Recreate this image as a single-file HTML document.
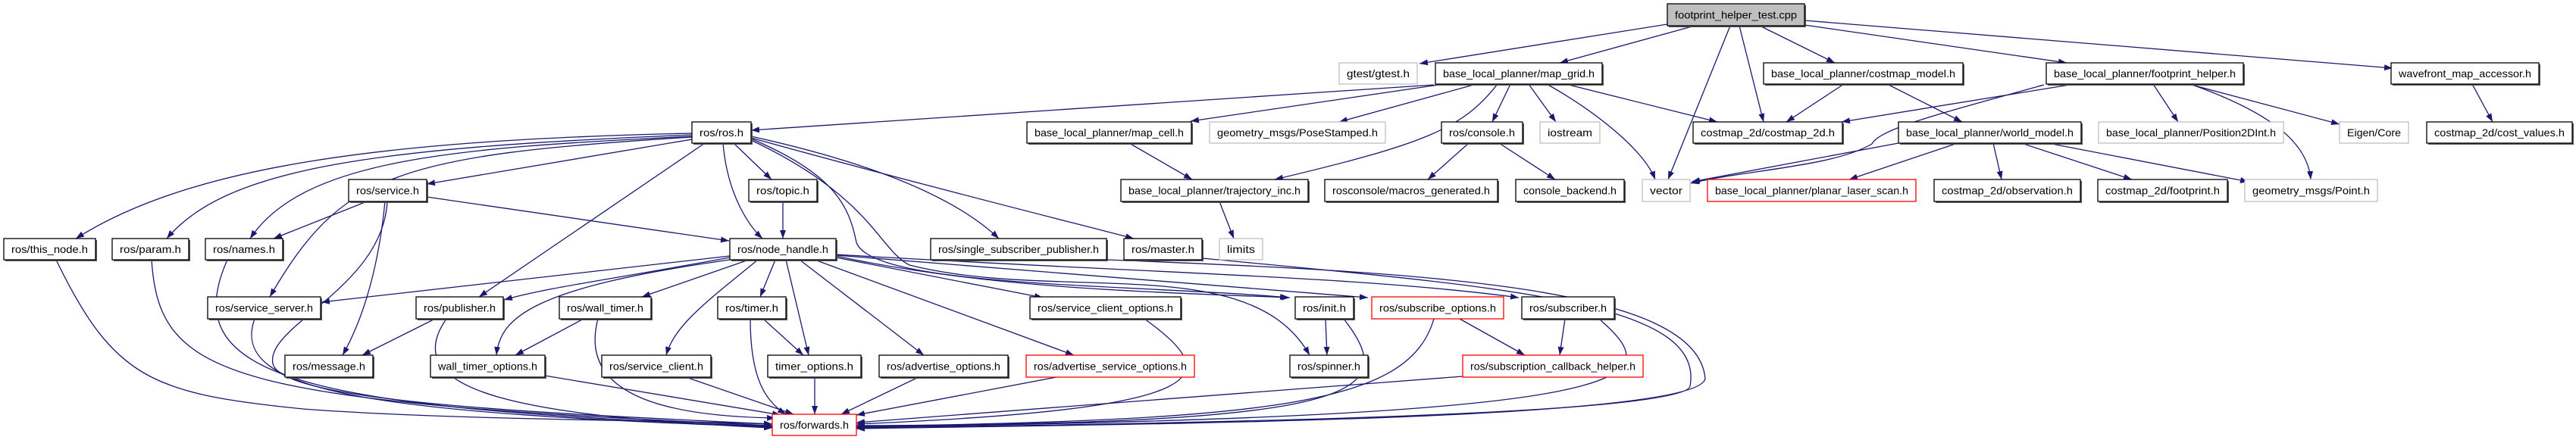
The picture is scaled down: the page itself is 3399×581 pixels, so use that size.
<!DOCTYPE html>
<html><head><meta charset="utf-8"><style>
html,body{margin:0;padding:0;background:#fff;}
svg{display:block;}
text{font-family:"Liberation Sans",sans-serif;font-size:14px;fill:#000;text-anchor:middle;}
.s{fill:#555;}
.b{fill:#fff;stroke:#000;stroke-width:1.3;}
.g{fill:#fff;stroke:#bfbfbf;stroke-width:1.3;}
.r{fill:#fff;stroke:#ff0000;stroke-width:1.3;}
.f{fill:#bfbfbf;stroke:#000;stroke-width:1.3;}
</style></head><body>
<svg width="3399" height="581" viewBox="0 0 3399 581" xmlns="http://www.w3.org/2000/svg">
<defs>
<marker id="a" markerUnits="userSpaceOnUse" markerWidth="11" markerHeight="8" refX="11" refY="4" orient="auto"><path d="M0,0 L11,4 L0,8 z" fill="#191970"/></marker>
</defs>
<g fill="none" stroke="#191970" stroke-width="1.3" marker-end="url(#a)">
<path d="M2200,32 L1873,84"/>
<path d="M2236,34 L2058,83"/>
<path d="M2283,34 L2201,237"/>
<path d="M2295,34 L2327,161"/>
<path d="M2322,34 L2421,83"/>
<path d="M2381,33 L2727,83"/>
<path d="M2381,27 L3157,90"/>
<path d="M1892,112 L991,172"/>
<path d="M1905,111 L1571,160"/>
<path d="M1948,111 L1767,161"/>
<path d="M1976,111 C1930,170 1880,190 1682,237"/>
<path d="M1993,111 L1969,161"/>
<path d="M2017,111 L2053,161"/>
<path d="M2041,111 C2110,150 2170,200 2184,237"/>
<path d="M2066,111 L2266,161"/>
<path d="M2433,111 L2357,161"/>
<path d="M2490,111 L2589,161"/>
<path d="M2737,111 L2430,161"/>
<path d="M2697,112 C2560,150 2480,170 2470,190 C2420,220 2300,225 2231,242"/>
<path d="M2841,111 L2874,161"/>
<path d="M2888,111 L3087,164"/>
<path d="M2890,111 C3000,150 3045,190 3049,237"/>
<path d="M3262,111 L3289,161"/>
<path d="M2505,189 L2232,240"/>
<path d="M2583,189 L2440,237"/>
<path d="M2630,189 L2641,237"/>
<path d="M2667,189 L2813,237"/>
<path d="M2702,189 L2967,240"/>
<path d="M1490,189 L1573,237"/>
<path d="M1938,189 L1884,237"/>
<path d="M1978,189 L2052,237"/>
<path d="M1609,266 L1628,315"/>
<path d="M913,176 C500,185 250,220 100,315"/>
<path d="M913,178 C500,195 300,220 220,315"/>
<path d="M913,180 C600,195 400,210 330,315"/>
<path d="M913,181 C520,205 450,230 356,392"/>
<path d="M925,182 L563,243"/>
<path d="M930,189 L632,392"/>
<path d="M954,189 C960,260 990,300 1006,315"/>
<path d="M968,189 L1018,237"/>
<path d="M991,183 C1100,230 1120,270 1130,320 C1150,380 1500,375 1700,393"/>
<path d="M991,185 C1150,260 1160,330 1200,350 C1400,400 1650,330 1728,469"/>
<path d="M991,180 C1150,215 1260,260 1318,315"/>
<path d="M991,182 C1200,240 1400,290 1496,315"/>
<path d="M484,266 L361,315"/>
<path d="M508,266 C500,350 480,420 452,469"/>
<path d="M511,266 C505,380 350,430 360,480 C370,530 700,545 1019,560"/>
<path d="M563,260 L962,318"/>
<path d="M1033,266 L1033,315"/>
<path d="M963,338 L424,399"/>
<path d="M963,340 C800,370 720,380 665,396"/>
<path d="M963,343 C700,380 660,420 655,469"/>
<path d="M988,343 L847,392"/>
<path d="M1000,343 C930,400 890,430 879,469"/>
<path d="M1023,343 L1003,392"/>
<path d="M1037,343 L1067,469"/>
<path d="M1055,343 L1219,469"/>
<path d="M1075,343 L1417,469"/>
<path d="M1103,340 L1376,393"/>
<path d="M1103,338 C1300,380 1500,385 1702,393"/>
<path d="M1103,337 L1805,393"/>
<path d="M1103,336 C1500,360 1800,365 2004,393"/>
<path d="M74,343 C150,500 200,520 400,540 C600,555 900,555 1019,560"/>
<path d="M200,343 C210,500 300,530 1019,562"/>
<path d="M300,343 C230,500 400,540 1019,563"/>
<path d="M336,421 C300,520 500,545 1019,564"/>
<path d="M574,421 L478,469"/>
<path d="M589,421 C520,520 700,550 1019,565"/>
<path d="M770,421 L680,469"/>
<path d="M789,421 C760,530 900,550 1023,552"/>
<path d="M719,496 L1030,548"/>
<path d="M905,498 L1047,547"/>
<path d="M1007,421 L1060,469"/>
<path d="M990,421 C990,500 1010,530 1037,547"/>
<path d="M1075,498 L1075,547"/>
<path d="M1212,498 L1110,547"/>
<path d="M1394,498 L1130,548"/>
<path d="M1510,421 C1620,500 1600,540 1130,560"/>
<path d="M1749,421 L1751,469"/>
<path d="M1773,421 C1850,520 1800,560 1130,562"/>
<path d="M1926,421 L2012,469"/>
<path d="M1892,421 C1860,530 1700,555 1130,563"/>
<path d="M2065,421 L2058,469"/>
<path d="M2110,421 C2200,500 2200,550 1130,564"/>
<path d="M1930,497 L1130,558"/>
<path d="M1586,341 C2000,380 2250,400 2230,510 C2220,550 1500,560 1130,565"/>
<path d="M1460,343 C1900,360 2240,380 2250,500 C2240,555 1500,560 1130,566"/>
</g>

<!-- row 1 -->
<rect class="s" x="2202" y="7" width="181" height="29"/><rect class="f" x="2200" y="5" width="181" height="29"/>
<text x="2290.5" y="24.5" textLength="161" lengthAdjust="spacingAndGlyphs">footprint_helper_test.cpp</text>

<!-- row 2 -->
<rect class="g" x="1767" y="83" width="103" height="28"/>
<text x="1818.5" y="102" textLength="83" lengthAdjust="spacingAndGlyphs">gtest/gtest.h</text>
<rect class="s" x="1896" y="85" width="220" height="28"/><rect class="b" x="1894" y="83" width="220" height="28"/>
<text x="2004" y="102" textLength="200" lengthAdjust="spacingAndGlyphs">base_local_planner/map_grid.h</text>
<rect class="s" x="2329" y="85" width="263" height="28"/><rect class="b" x="2327" y="83" width="263" height="28"/>
<text x="2458.5" y="102" textLength="243" lengthAdjust="spacingAndGlyphs">base_local_planner/costmap_model.h</text>
<rect class="s" x="2702" y="85" width="260" height="28"/><rect class="b" x="2700" y="83" width="260" height="28"/>
<text x="2830" y="102" textLength="240" lengthAdjust="spacingAndGlyphs">base_local_planner/footprint_helper.h</text>
<rect class="s" x="3157" y="85" width="195" height="28"/><rect class="b" x="3155" y="83" width="195" height="28"/>
<text x="3252.5" y="102" textLength="175" lengthAdjust="spacingAndGlyphs">wavefront_map_accessor.h</text>

<!-- row 3 -->
<rect class="s" x="915" y="163" width="78" height="28"/><rect class="b" x="913" y="161" width="78" height="28"/>
<text x="952" y="180" textLength="58" lengthAdjust="spacingAndGlyphs">ros/ros.h</text>
<rect class="s" x="1357" y="163" width="217" height="28"/><rect class="b" x="1355" y="161" width="217" height="28"/>
<text x="1463.5" y="180" textLength="197" lengthAdjust="spacingAndGlyphs">base_local_planner/map_cell.h</text>
<rect class="g" x="1596" y="161" width="232" height="28"/>
<text x="1712" y="180" textLength="212" lengthAdjust="spacingAndGlyphs">geometry_msgs/PoseStamped.h</text>
<rect class="s" x="1904" y="163" width="107" height="28"/><rect class="b" x="1902" y="161" width="107" height="28"/>
<text x="1955.5" y="180" textLength="87" lengthAdjust="spacingAndGlyphs">ros/console.h</text>
<rect class="g" x="2032" y="161" width="79" height="28"/>
<text x="2071.5" y="180" textLength="59" lengthAdjust="spacingAndGlyphs">iostream</text>
<rect class="s" x="2236" y="163" width="197" height="28"/><rect class="b" x="2234" y="161" width="197" height="28"/>
<text x="2332.5" y="180" textLength="177" lengthAdjust="spacingAndGlyphs">costmap_2d/costmap_2d.h</text>
<rect class="s" x="2507" y="163" width="241" height="28"/><rect class="b" x="2505" y="161" width="241" height="28"/>
<text x="2625.5" y="180" textLength="221" lengthAdjust="spacingAndGlyphs">base_local_planner/world_model.h</text>
<rect class="g" x="2769" y="161" width="244" height="28"/>
<text x="2891" y="180" textLength="224" lengthAdjust="spacingAndGlyphs">base_local_planner/Position2DInt.h</text>
<rect class="g" x="3087" y="161" width="91" height="28"/>
<text x="3132.5" y="180" textLength="71" lengthAdjust="spacingAndGlyphs">Eigen/Core</text>
<rect class="s" x="3204" y="163" width="192" height="28"/><rect class="b" x="3202" y="161" width="192" height="28"/>
<text x="3298" y="180" textLength="172" lengthAdjust="spacingAndGlyphs">costmap_2d/cost_values.h</text>

<!-- row 4 -->
<rect class="s" x="462" y="239" width="103" height="29"/><rect class="b" x="460" y="237" width="103" height="29"/>
<text x="511.5" y="256.5" textLength="83" lengthAdjust="spacingAndGlyphs">ros/service.h</text>
<rect class="s" x="990" y="239" width="90" height="29"/><rect class="b" x="988" y="237" width="90" height="29"/>
<text x="1033" y="256.5" textLength="70" lengthAdjust="spacingAndGlyphs">ros/topic.h</text>
<rect class="s" x="1481" y="239" width="247" height="29"/><rect class="b" x="1479" y="237" width="247" height="29"/>
<text x="1602.5" y="256.5" textLength="227" lengthAdjust="spacingAndGlyphs">base_local_planner/trajectory_inc.h</text>
<rect class="s" x="1750" y="239" width="228" height="29"/><rect class="b" x="1748" y="237" width="228" height="29"/>
<text x="1862" y="256.5" textLength="208" lengthAdjust="spacingAndGlyphs">rosconsole/macros_generated.h</text>
<rect class="s" x="2002" y="239" width="143" height="29"/><rect class="b" x="2000" y="237" width="143" height="29"/>
<text x="2071.5" y="256.5" textLength="123" lengthAdjust="spacingAndGlyphs">console_backend.h</text>
<rect class="g" x="2167" y="237" width="63" height="29"/>
<text x="2198.5" y="256.5" textLength="43" lengthAdjust="spacingAndGlyphs">vector</text>
<rect class="r" x="2253" y="237" width="275" height="29"/>
<text x="2390.5" y="256.5" textLength="255" lengthAdjust="spacingAndGlyphs">base_local_planner/planar_laser_scan.h</text>
<rect class="s" x="2554" y="239" width="193" height="29"/><rect class="b" x="2552" y="237" width="193" height="29"/>
<text x="2648.5" y="256.5" textLength="173" lengthAdjust="spacingAndGlyphs">costmap_2d/observation.h</text>
<rect class="s" x="2770" y="239" width="171" height="29"/><rect class="b" x="2768" y="237" width="171" height="29"/>
<text x="2853.5" y="256.5" textLength="151" lengthAdjust="spacingAndGlyphs">costmap_2d/footprint.h</text>
<rect class="g" x="2962" y="237" width="175" height="29"/>
<text x="3049.5" y="256.5" textLength="155" lengthAdjust="spacingAndGlyphs">geometry_msgs/Point.h</text>

<!-- row 5 -->
<rect class="s" x="7" y="317" width="121" height="28"/><rect class="b" x="5" y="315" width="121" height="28"/>
<text x="65.5" y="334" textLength="101" lengthAdjust="spacingAndGlyphs">ros/this_node.h</text>
<rect class="s" x="150" y="317" width="101" height="28"/><rect class="b" x="148" y="315" width="101" height="28"/>
<text x="198.5" y="334" textLength="81" lengthAdjust="spacingAndGlyphs">ros/param.h</text>
<rect class="s" x="273" y="317" width="102" height="28"/><rect class="b" x="271" y="315" width="102" height="28"/>
<text x="322" y="334" textLength="82" lengthAdjust="spacingAndGlyphs">ros/names.h</text>
<rect class="s" x="965" y="317" width="140" height="28"/><rect class="b" x="963" y="315" width="140" height="28"/>
<text x="1033" y="334" textLength="120" lengthAdjust="spacingAndGlyphs">ros/node_handle.h</text>
<rect class="s" x="1230" y="317" width="232" height="28"/><rect class="b" x="1228" y="315" width="232" height="28"/>
<text x="1344" y="334" textLength="212" lengthAdjust="spacingAndGlyphs">ros/single_subscriber_publisher.h</text>
<rect class="s" x="1485" y="317" width="103" height="28"/><rect class="b" x="1483" y="315" width="103" height="28"/>
<text x="1534.5" y="334" textLength="83" lengthAdjust="spacingAndGlyphs">ros/master.h</text>
<rect class="g" x="1609" y="315" width="57" height="28"/>
<text x="1637.5" y="334" textLength="37" lengthAdjust="spacingAndGlyphs">limits</text>

<!-- row 6 -->
<rect class="s" x="276" y="394" width="149" height="29"/><rect class="b" x="274" y="392" width="149" height="29"/>
<text x="348.5" y="411.5" textLength="129" lengthAdjust="spacingAndGlyphs">ros/service_server.h</text>
<rect class="s" x="551" y="394" width="115" height="29"/><rect class="b" x="549" y="392" width="115" height="29"/>
<text x="606.5" y="411.5" textLength="95" lengthAdjust="spacingAndGlyphs">ros/publisher.h</text>
<rect class="s" x="740" y="394" width="121" height="29"/><rect class="b" x="738" y="392" width="121" height="29"/>
<text x="798.5" y="411.5" textLength="101" lengthAdjust="spacingAndGlyphs">ros/wall_timer.h</text>
<rect class="s" x="949" y="394" width="90" height="29"/><rect class="b" x="947" y="392" width="90" height="29"/>
<text x="992" y="411.5" textLength="70" lengthAdjust="spacingAndGlyphs">ros/timer.h</text>
<rect class="s" x="1361" y="394" width="199" height="29"/><rect class="b" x="1359" y="392" width="199" height="29"/>
<text x="1458.5" y="411.5" textLength="179" lengthAdjust="spacingAndGlyphs">ros/service_client_options.h</text>
<rect class="s" x="1711" y="394" width="77" height="29"/><rect class="b" x="1709" y="392" width="77" height="29"/>
<text x="1747.5" y="411.5" textLength="57" lengthAdjust="spacingAndGlyphs">ros/init.h</text>
<rect class="r" x="1810" y="392" width="174" height="29"/>
<text x="1897" y="411.5" textLength="154" lengthAdjust="spacingAndGlyphs">ros/subscribe_options.h</text>
<rect class="s" x="2010" y="394" width="122" height="29"/><rect class="b" x="2008" y="392" width="122" height="29"/>
<text x="2069" y="411.5" textLength="102" lengthAdjust="spacingAndGlyphs">ros/subscriber.h</text>

<!-- row 7 -->
<rect class="s" x="378" y="471" width="116" height="29"/><rect class="b" x="376" y="469" width="116" height="29"/>
<text x="434" y="488.5" textLength="96" lengthAdjust="spacingAndGlyphs">ros/message.h</text>
<rect class="s" x="570" y="471" width="151" height="29"/><rect class="b" x="568" y="469" width="151" height="29"/>
<text x="643.5" y="488.5" textLength="131" lengthAdjust="spacingAndGlyphs">wall_timer_options.h</text>
<rect class="s" x="796" y="471" width="144" height="29"/><rect class="b" x="794" y="469" width="144" height="29"/>
<text x="866" y="488.5" textLength="124" lengthAdjust="spacingAndGlyphs">ros/service_client.h</text>
<rect class="s" x="1015" y="471" width="123" height="29"/><rect class="b" x="1013" y="469" width="123" height="29"/>
<text x="1074.5" y="488.5" textLength="103" lengthAdjust="spacingAndGlyphs">timer_options.h</text>
<rect class="s" x="1162" y="471" width="170" height="29"/><rect class="b" x="1160" y="469" width="170" height="29"/>
<text x="1245" y="488.5" textLength="150" lengthAdjust="spacingAndGlyphs">ros/advertise_options.h</text>
<rect class="r" x="1354" y="469" width="222" height="29"/>
<text x="1465" y="488.5" textLength="202" lengthAdjust="spacingAndGlyphs">ros/advertise_service_options.h</text>
<rect class="s" x="1704" y="471" width="103" height="29"/><rect class="b" x="1702" y="469" width="103" height="29"/>
<text x="1753.5" y="488.5" textLength="83" lengthAdjust="spacingAndGlyphs">ros/spinner.h</text>
<rect class="r" x="1930" y="469" width="238" height="29"/>
<text x="2049" y="488.5" textLength="218" lengthAdjust="spacingAndGlyphs">ros/subscription_callback_helper.h</text>

<!-- row 8 -->
<rect class="r" x="1019" y="547" width="111" height="28"/>
<text x="1074.5" y="566" textLength="91" lengthAdjust="spacingAndGlyphs">ros/forwards.h</text>
</svg>
</body></html>
